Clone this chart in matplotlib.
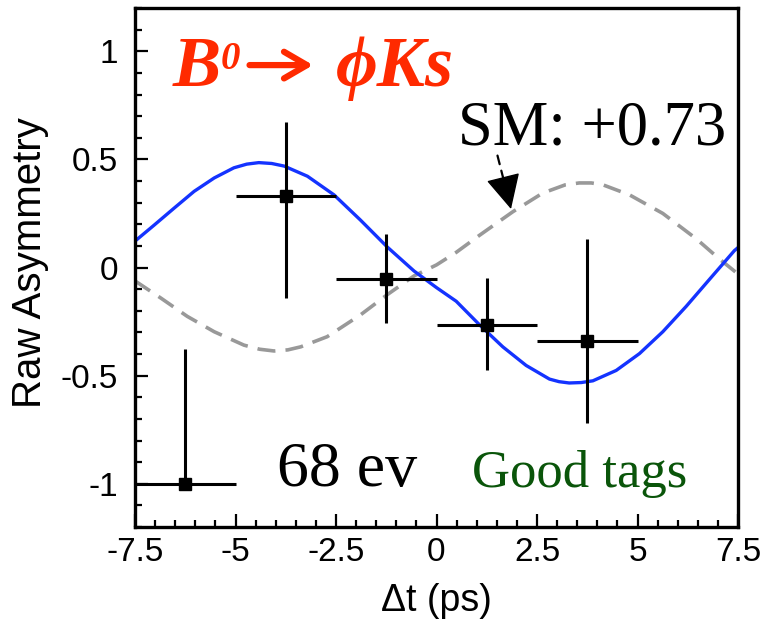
import numpy as np
import matplotlib
matplotlib.use("Agg")
import matplotlib.pyplot as plt

plt.rcParams['font.family'] = ['Liberation Sans', 'DejaVu Sans']
plt.rcParams['axes.unicode_minus'] = False

# --- data ---
# binned raw asymmetry (good tags)
dt_bins = [-6.25, -3.75, -1.25, 1.25, 3.75]
dt_halfwidth = [1.25, 1.25, 1.25, 1.25, 1.25]
asym = [-1.0, 0.33, -0.055, -0.268, -0.342]
err_lo = [0.0, 0.471, 0.203, 0.204, 0.377]
err_hi = [0.625, 0.342, 0.212, 0.218, 0.475]

# fit result (blue solid)
t_fit = [-7.5, -7.03, -6.53, -6.03, -5.53, -5.04, -4.72, -4.42, -4.10, -3.79,
         -3.21, -2.55, -1.89, -1.22, -0.56, 0.0, 0.49, 1.07, 1.65, 2.23,
         2.81, 3.05, 3.30, 3.60, 3.89, 4.47, 5.05, 5.63, 6.21, 6.79, 7.41, 7.5]
a_fit = [0.122, 0.195, 0.274, 0.352, 0.414, 0.461, 0.478, 0.485, 0.481, 0.469,
         0.422, 0.336, 0.219, 0.094, -0.016, -0.093, -0.156, -0.265, -0.367, -0.453,
         -0.516, -0.528, -0.534, -0.532, -0.524, -0.476, -0.398, -0.297, -0.18, -0.055,
         0.078, 0.092]

# SM expectation sin2phi1 = +0.73 (grey dashed)
t_sm = [-7.5, -6.86, -6.20, -5.53, -4.79, -4.40, -4.04, -3.70, -3.38, -2.72,
        -1.89, -1.22, -0.56, 0.0, 0.49, 1.07, 1.90, 2.64, 3.20, 3.55,
        3.85, 4.13, 4.80, 5.63, 6.46, 7.04, 7.5]
a_sm = [-0.062, -0.141, -0.226, -0.297, -0.359, -0.378, -0.386, -0.381, -0.367, -0.32,
        -0.219, -0.125, -0.039, 0.012, 0.07, 0.149, 0.258, 0.344, 0.382, 0.391,
        0.391, 0.383, 0.336, 0.25, 0.133, 0.039, -0.03]

fig = plt.figure(figsize=(7.67, 6.27), dpi=100)
ax = fig.add_axes([135/767, 1 - 527/627, 603/767, 519/627])

ax.plot(t_sm, a_sm, color='#999999', lw=2.6, dashes=(5.0, 2.8))
ax.plot(t_fit, a_fit, color='#1433ff', lw=2.4)
ax.errorbar(dt_bins, asym, xerr=dt_halfwidth, yerr=[err_lo, err_hi],
            fmt='s', color='black', ms=8, elinewidth=2.2, capsize=0, zorder=5)

ax.set_xlim(-7.5, 7.5)
ax.set_ylim(-1.2, 1.2)
ax.set_xticks([-7.5, -5, -2.5, 0, 2.5, 5, 7.5])
ax.set_xticklabels(['-7.5', '-5', '-2.5', '0', '2.5', '5', '7.5'])
ax.set_xticks(np.arange(-7.5, 7.51, 0.5), minor=True)
ax.set_yticks([-1, -0.5, 0, 0.5, 1])
ax.set_yticklabels(['-1', '-0.5', '0', '0.5', '1'])
ax.set_yticks(np.arange(-1.2, 1.21, 0.1), minor=True)
ax.tick_params(which='both', direction='in', top=False, right=False, width=1.6,
               labelsize=24)
ax.tick_params(which='major', length=9.5)
ax.tick_params(which='minor', length=5)
ax.tick_params(axis='x', pad=7)
ax.tick_params(axis='y', pad=12)
for sp in ax.spines.values():
    sp.set_linewidth(2.4)

ax.set_ylabel('Raw Asymmetry', fontsize=29)
ax.yaxis.set_label_coords(-0.143, 0.51)
ax.set_xlabel('Δt (ps)', fontsize=27)
ax.xaxis.set_label_coords(0.5, -0.108)

# decay mode title, red bold italic serif
red = '#ff2a00'
serif = ['Liberation Serif', 'DejaVu Serif']
ax.text(-6.555, 0.838, 'B', color=red, fontsize=52, family=serif,
        weight='bold', style='italic', va='baseline')
ax.text(-5.38, 0.92, '0', color=red, fontsize=28, family=serif,
        weight='bold', style='italic', va='baseline')
ax.annotate('', xy=(-3.0, 0.936), xytext=(-4.72, 0.936),
            arrowprops=dict(arrowstyle='->,head_length=0.55,head_width=0.32',
                            lw=4.5, color=red, mutation_scale=30))
ax.text(-2.5, 0.838, 'ϕKs', color=red, fontsize=52, family=serif,
        weight='bold', style='italic', va='baseline')

ax.text(0.535, 0.571, 'SM: +0.73', fontsize=45, family=serif, va='baseline')
# dashed pointer with a solid head
ax.annotate('', xy=(1.80, 0.31), xytext=(1.50, 0.53),
            arrowprops=dict(arrowstyle='-', lw=1.6, ls=(0, (4, 3)), color='black'))
ax.annotate('', xy=(1.87, 0.258), xytext=(1.76, 0.34),
            arrowprops=dict(arrowstyle='-|>,head_length=1.0,head_width=0.5',
                            lw=1.0, color='black', mutation_scale=22))

ax.text(-3.97, -1.009, '68 ev', fontsize=46, family=serif, va='baseline')
ax.text(0.883, -1.014, 'Good tags', fontsize=38, family=serif,
        color='#0a550a', va='baseline')

fig.savefig('out.png', dpi=100)
